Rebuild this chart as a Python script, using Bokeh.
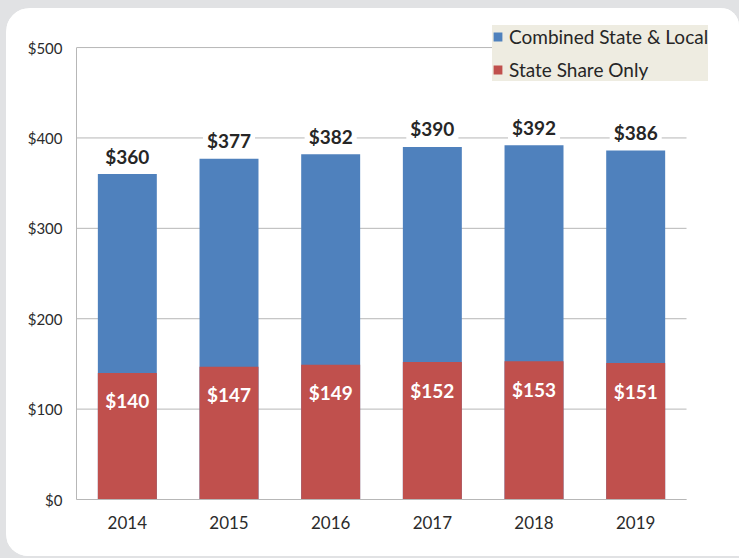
from bokeh.plotting import figure
from bokeh.models import (ColumnDataSource, Range1d, FixedTicker,
                          NumeralTickFormatter, Legend, LegendItem)
from bokeh.core.properties import value
from bokeh.embed import file_html
from bokeh.resources import INLINE

years = ["2014", "2015", "2016", "2017", "2018", "2019"]
combined = [360, 377, 382, 390, 392, 386]
state_share = [140, 147, 149, 152, 153, 151]
y_ticks = [0, 100, 200, 300, 400, 500]

BLUE = "#4f81bd"
RED = "#c0504d"
GRID = "#b7b7b7"
FONT = "Lato"

idx = list(range(len(years)))
src = ColumnDataSource(dict(
    x=idx,
    combined=combined,
    state=state_share,
    combined_label=[f"${v}" for v in combined],
    state_label=[f"${v}" for v in state_share],
))

x_lo = idx[0] - 0.5
x_hi = idx[-1] + 0.5

# frame extends above $500 and right of the last category so the legend box fits inside it
p = figure(x_range=Range1d(x_lo, x_hi + 0.226), y_range=Range1d(0, 541),
           width=733, height=548, output_backend="svg", toolbar_location=None,
           min_border_left=70, min_border_right=30, min_border_top=2, min_border_bottom=57,
           border_fill_color="white", background_fill_color="white",
           outline_line_color=None)

# horizontal grid lines limited to the category span
p.segment(x0=x_lo, x1=x_hi, y0=y_ticks, y1=y_ticks, line_color=GRID, line_width=1)

r_comb = p.vbar(x="x", top="combined", width=0.58, color=BLUE, line_color=None, source=src)
r_state = p.vbar(x="x", top="state", width=0.58, color=RED, line_color=None, source=src)

p.text(x="x", y="combined", text="combined_label", source=src,
       text_align="center", text_baseline="middle", y_offset=-18,
       text_font=value(FONT), text_font_style="bold", text_font_size="19px",
       text_color="#262626", background_fill_color="white", padding=4)
p.text(x="x", y="state", text="state_label", source=src,
       text_align="center", text_baseline="middle", y_offset=28,
       text_font=value(FONT), text_font_style="bold", text_font_size="19px",
       text_color="white")

p.yaxis.ticker = FixedTicker(ticks=y_ticks)
p.yaxis.formatter = NumeralTickFormatter(format="$0")
p.yaxis.bounds = (y_ticks[0], y_ticks[-1])
p.xaxis.ticker = FixedTicker(ticks=idx)
p.xaxis.major_label_overrides = {i: y for i, y in zip(idx, years)}
p.xaxis.bounds = (x_lo, x_hi)
for ax in (p.xaxis[0], p.yaxis[0]):
    ax.major_tick_line_color = None
    ax.minor_tick_line_color = None
    ax.major_tick_out = 0
    ax.major_tick_in = 0
    ax.axis_line_color = GRID
    ax.major_label_text_font = FONT
    ax.major_label_text_color = "#2b2b2b"
p.yaxis.major_label_text_font_size = "15px"
p.yaxis.major_label_standoff = 14
p.xaxis.major_label_text_font_size = "17px"
p.xaxis.major_label_standoff = 16

p.xgrid.grid_line_color = None
p.ygrid.grid_line_color = None

legend = Legend(items=[LegendItem(label="Combined State & Local", renderers=[r_comb]),
                       LegendItem(label="State Share Only", renderers=[r_state])],
                location=(416, 418), orientation="vertical",
                background_fill_color="#eeece1", background_fill_alpha=1,
                border_line_color=None, padding=5, margin=0, spacing=10,
                glyph_width=11, glyph_height=11, label_standoff=6, label_height=20,
                label_text_font=FONT, label_text_font_size="19px", label_text_color="#262626")
p.add_layout(legend, "center")

p.styles = {"margin": "8px 0 0 6px",
            "border-radius": "24px 18px 0 22px", "overflow": "hidden",
            "box-shadow": "0 0 0 80px #e1e2e4"}

open("out.html", "w").write(file_html(p, INLINE))
